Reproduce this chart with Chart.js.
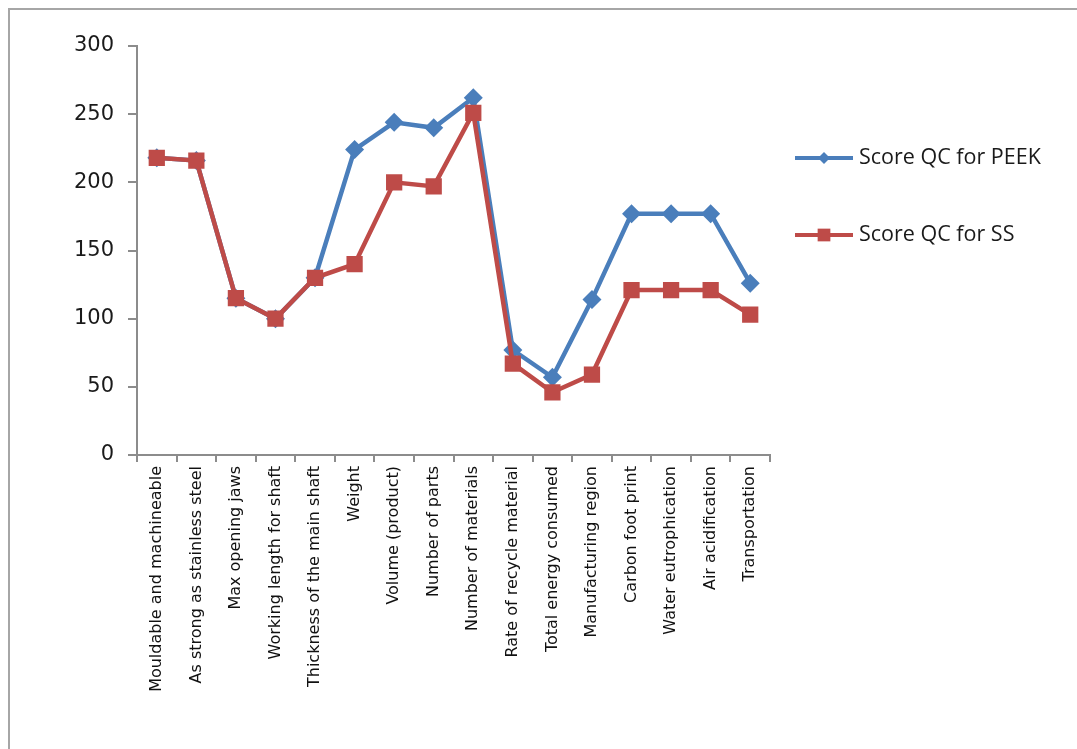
<!DOCTYPE html>
<html>
<head>
<meta charset="utf-8">
<script src="https://cdn.jsdelivr.net/npm/chart.js@4"></script>
<style>
  html, body { margin: 0; padding: 0; background: #fff; }
  #wrap { position: relative; width: 1077px; height: 749px; overflow: hidden; }
  #frame { position: absolute; left: 8px; top: 8px; width: 1090px; height: 800px; border: 2px solid #a6a6a6; box-sizing: border-box; }
  canvas { position: absolute; left: 0; top: 0; }
</style>
</head>
<body>
<div id="wrap">
  <div id="frame"></div>
  <canvas id="qcChart" width="1077" height="749"></canvas>
</div>
<script>
// ─── Data ─────────────────────────────────────────────
const categories = [
  'Mouldable and machineable', 'As strong as stainless steel', 'Max opening jaws',
  'Working length for shaft', 'Thickness of the main shaft', 'Weight',
  'Volume (product)', 'Number of parts', 'Number of materials',
  'Rate of recycle material', 'Total energy consumed', 'Manufacturing region',
  'Carbon foot print', 'Water eutrophication', 'Air acidification', 'Transportation'
];
const peekScores = [218, 216, 115, 100, 130, 224, 244, 240, 262, 77, 57, 114, 177, 177, 177, 126];
const ssScores   = [218, 216, 115, 100, 130, 140, 200, 197, 251, 67, 46, 59, 121, 121, 121, 103];
const yTicks     = [0, 50, 100, 150, 200, 250, 300];

const BLUE = '#4a7ebb';
const RED  = '#be4b48';

// legend drawn beside the plot: line + marker, like the office chart
const sideLegend = {
  id: 'sideLegend',
  afterDraw(chart) {
    const ctx = chart.ctx;
    const items = [
      { label: 'Score QC for PEEK', color: BLUE, style: 'rectRot', r: 6, y: 158 },
      { label: 'Score QC for SS',   color: RED,  style: 'rect',    r: 9, y: 235 }
    ];
    ctx.save();
    items.forEach(it => {
      ctx.strokeStyle = it.color;
      ctx.lineWidth = 4;
      ctx.beginPath();
      ctx.moveTo(795, it.y);
      ctx.lineTo(853, it.y);
      ctx.stroke();
      ctx.fillStyle = it.color;
      Chart.helpers.drawPoint(ctx, { pointStyle: it.style, radius: it.r, borderWidth: 0 }, 824, it.y);
      ctx.fillStyle = '#1a1a1a';
      ctx.font = '21.5px "Open Sans"';
      ctx.textBaseline = 'middle';
      ctx.fillText(it.label, 859, it.y);
    });
    ctx.restore();
  }
};

new Chart(document.getElementById('qcChart'), {
  type: 'line',
  data: {
    labels: categories,
    datasets: [
      {
        label: 'Score QC for PEEK',
        data: peekScores,
        order: 1,
        borderColor: BLUE,
        backgroundColor: BLUE,
        borderWidth: 4.5,
        pointStyle: 'rectRot',
        pointRadius: 9.5,
        pointBorderWidth: 0,
        tension: 0
      },
      {
        label: 'Score QC for SS',
        data: ssScores,
        order: 0,
        borderColor: RED,
        backgroundColor: RED,
        borderWidth: 4.5,
        pointStyle: 'rect',
        pointRadius: 11.5,
        pointBorderWidth: 0,
        tension: 0
      }
    ]
  },
  options: {
    responsive: false,
    animation: false,
    layout: { padding: { left: 40, top: 46, right: 307, bottom: 0 } },
    plugins: {
      legend: { display: false },
      tooltip: { enabled: false }
    },
    scales: {
      x: {
        offset: true,
        grid: { offset: true, drawOnChartArea: false, color: '#8c8c8c', tickLength: 7, lineWidth: 2 },
        border: { color: '#8c8c8c', width: 2 },
        ticks: {
          autoSkip: false,
          minRotation: 90,
          maxRotation: 90,
          padding: 4,
          color: '#111',
          font: { family: 'DejaVu Sans', size: 16 }
        },
        afterFit(scale) { scale.height = 294; }
      },
      y: {
        min: 0,
        max: 300,
        afterBuildTicks(scale) { scale.ticks = yTicks.map(v => ({ value: v })); },
        grid: { drawOnChartArea: false, color: '#8c8c8c', tickLength: 9, lineWidth: 2 },
        border: { color: '#8c8c8c', width: 2 },
        ticks: {
          padding: 14,
          color: '#1a1a1a',
          font: { family: 'DejaVu Sans', size: 21 }
        },
        afterFit(scale) { scale.width = 97; }
      }
    }
  },
  plugins: [sideLegend]
});
</script>
</body>
</html>
